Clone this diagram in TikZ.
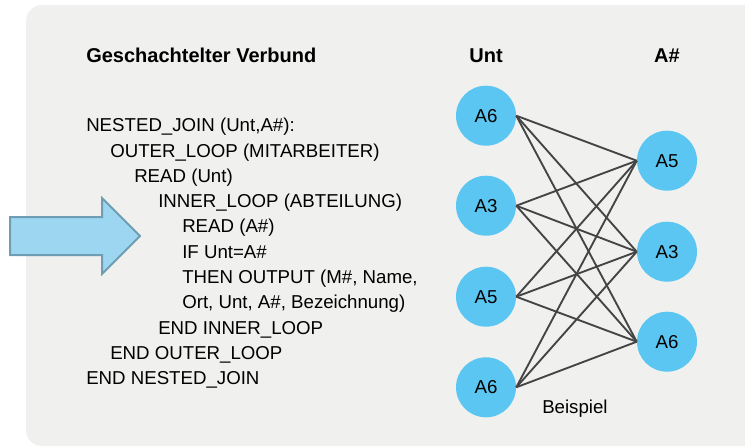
\documentclass[tikz,border=0pt]{standalone}
\usepackage{fontspec}
\setmainfont{Liberation Sans}
\definecolor{panel}{HTML}{F0F0EF}
\definecolor{bubble}{HTML}{5BC6F1}
\definecolor{arrowfill}{HTML}{9DD6F1}
\definecolor{arrowline}{HTML}{6E9DB4}
\definecolor{edge}{HTML}{444444}
\begin{document}
\begin{tikzpicture}[x=0.75pt, y=-0.75pt,
    circ/.style={circle, fill=bubble, minimum size=45pt, inner sep=0pt, font=\fontsize{14}{16}\selectfont},
    code/.style={anchor=base west, inner sep=0pt, font=\fontsize{14}{16}\selectfont},
    head/.style={anchor=base, inner sep=0pt, font=\fontsize{15}{18}\selectfont\bfseries}]
    \useasboundingbox (0,0) rectangle (745,447);

    % the grey panel
    \fill[panel, rounded corners=12pt] (26,5) rectangle (770,446);

    % the big arrow
    \filldraw[fill=arrowfill, draw=arrowline, line width=1.5pt, line join=miter]
        (10,217) -- (102,217) -- (102,198) -- (140,236) -- (102,274) -- (102,255) -- (10,255) -- cycle;

    % the headings
    \node[head, anchor=base west] (title) at (86,62.7) {Geschachtelter Verbund};
    \node[head] (hunt) at (486,62.7) {Unt};
    \node[head] (ha) at (667,62.7) {A\#};

    % the pseudo code, one node per line
    \node[code] (l1) at (86,131.7) {NESTED\_JOIN (Unt,A\#):};
    \node[code] (l2) at (110,157) {OUTER\_LOOP (MITARBEITER)};
    \node[code] (l3) at (134,182.3) {READ (Unt)};
    \node[code] (l4) at (158,207.6) {INNER\_LOOP (ABTEILUNG)};
    \node[code] (l5) at (182,232.9) {READ (A\#)};
    \node[code] (l6) at (182,258.2) {IF Unt=A\#};
    \node[code] (l7) at (182,283.5) {THEN OUTPUT (M\#, Name,};
    \node[code] (l8) at (182,308.8) {Ort, Unt, A\#, Bezeichnung)};
    \node[code] (l9) at (158,334.1) {END INNER\_LOOP};
    \node[code] (l10) at (110,359.4) {END OUTER\_LOOP};
    \node[code] (l11) at (86,384.7) {END NESTED\_JOIN};

    % the values of both columns
    \node[circ] (u1) at (486,115.7) {A6};
    \node[circ] (u2) at (486,205.7) {A3};
    \node[circ] (u3) at (486,296.7) {A5};
    \node[circ] (u4) at (486,387.3) {A6};
    %
    \node[circ] (a1) at (667,160.7) {A5};
    \node[circ] (a2) at (667,251.7) {A3};
    \node[circ] (a3) at (667,341.7) {A6};

    % every pair is compared
    \draw[edge, line width=1.4pt] (u1.east) -- (a1.west);
    \draw[edge, line width=1.4pt] (u1.east) -- (a2.west);
    \draw[edge, line width=1.4pt] (u1.east) -- (a3.west);
    \draw[edge, line width=1.4pt] (u2.east) -- (a1.west);
    \draw[edge, line width=1.4pt] (u2.east) -- (a2.west);
    \draw[edge, line width=1.4pt] (u2.east) -- (a3.west);
    \draw[edge, line width=1.4pt] (u3.east) -- (a1.west);
    \draw[edge, line width=1.4pt] (u3.east) -- (a2.west);
    \draw[edge, line width=1.4pt] (u3.east) -- (a3.west);
    \draw[edge, line width=1.4pt] (u4.east) -- (a1.west);
    \draw[edge, line width=1.4pt] (u4.east) -- (a2.west);
    \draw[edge, line width=1.4pt] (u4.east) -- (a3.west);

    \node[code] (bsp) at (542,413) {Beispiel};
\end{tikzpicture}
\end{document}
